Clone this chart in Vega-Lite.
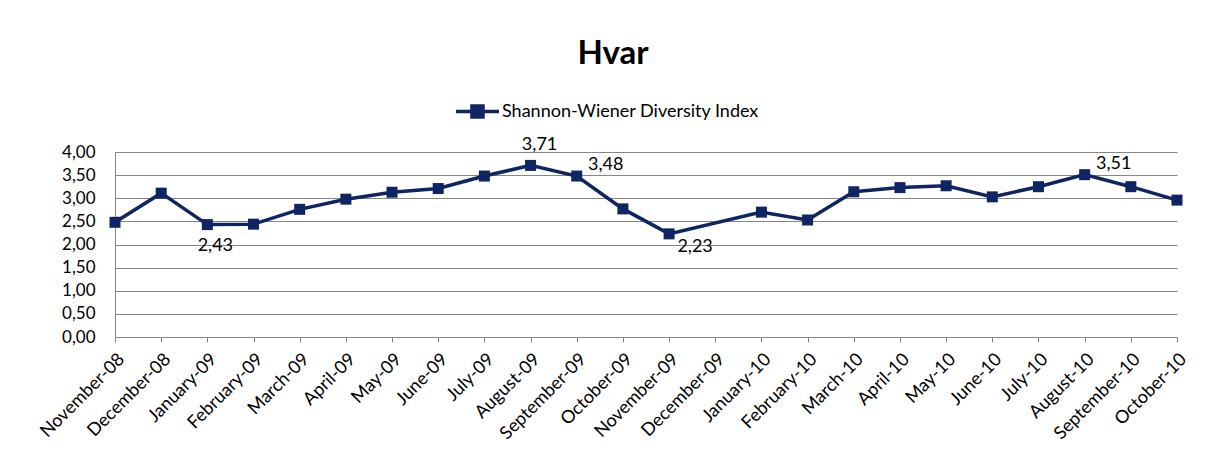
{
  "$schema": "https://vega.github.io/schema/vega-lite/v6.json",
  "width": 1062,
  "height": 185,
  "autosize": {"type": "none"},
  "padding": {"left": 115, "top": 152, "right": 28, "bottom": 123},
  "background": "white",
  "title": {"text": "Hvar", "fontSize": 33, "fontWeight": "bold", "color": "#000000", "font": "Lato", "anchor": "middle", "dx": -33, "offset": 17},
  "config": {
    "locale": {"number": {"decimal": ",", "thousands": ".", "grouping": [3], "currency": ["", " €"]}},
    "font": "Lato",
    "view": {"stroke": null}
  },
  "data": {
    "values": [
      {"month": "November-08", "index": 2.48},
      {"month": "December-08", "index": 3.11},
      {"month": "January-09", "index": 2.43},
      {"month": "February-09", "index": 2.44},
      {"month": "March-09", "index": 2.76},
      {"month": "April-09", "index": 2.98},
      {"month": "May-09", "index": 3.13},
      {"month": "June-09", "index": 3.21},
      {"month": "July-09", "index": 3.48},
      {"month": "August-09", "index": 3.71},
      {"month": "September-09", "index": 3.48},
      {"month": "October-09", "index": 2.77},
      {"month": "November-09", "index": 2.23},
      {"month": "January-10", "index": 2.70},
      {"month": "February-10", "index": 2.53},
      {"month": "March-10", "index": 3.14},
      {"month": "April-10", "index": 3.23},
      {"month": "May-10", "index": 3.27},
      {"month": "June-10", "index": 3.03},
      {"month": "July-10", "index": 3.25},
      {"month": "August-10", "index": 3.51},
      {"month": "September-10", "index": 3.25},
      {"month": "October-10", "index": 2.96}
    ]
  },
  "encoding": {
    "x": {
      "field": "month", "type": "ordinal",
      "scale": {"type": "point", "padding": 0, "domain": ["November-08","December-08","January-09","February-09","March-09","April-09","May-09","June-09","July-09","August-09","September-09","October-09","November-09","December-09","January-10","February-10","March-10","April-10","May-10","June-10","July-10","August-10","September-10","October-10"]},
      "axis": {"title": null, "labelAngle": -45, "labelFontSize": 18, "labelColor": "#000000", "labelFont": "Lato", "ticks": true, "tickSize": 5, "tickColor": "#868686", "domainColor": "#868686", "grid": false, "labelPadding": 8, "labelLimit": 300}
    },
    "y": {
      "field": "index", "type": "quantitative",
      "scale": {"domain": [0, 4], "nice": false, "zero": true},
      "axis": {"title": null, "values": [0, 0.5, 1, 1.5, 2, 2.5, 3, 3.5, 4], "format": ".2f", "labelFontSize": 17, "labelColor": "#000000", "labelFont": "Lato", "ticks": false, "labelPadding": 20, "gridColor": "#868686", "domainColor": "#868686", "grid": true}
    }
  },
  "layer": [
    {
      "mark": {"type": "line", "strokeWidth": 3.5, "color": "#0f2463"},
      "encoding": {}
    },
    {
      "mark": {"type": "point", "shape": "square", "filled": true, "size": 121, "opacity": 1},
      "encoding": {
        "color": {
          "datum": "Shannon-Wiener Diversity Index",
          "scale": {"range": ["#0f2463"]},
          "legend": {
            "title": null, "orient": "none", "legendX": 339, "legendY": -64,
            "symbolType": "M-1,0H1M-0.256,-0.256H0.256V0.256H-0.256Z",
            "symbolSize": 1849, "symbolStrokeWidth": 3.5, "symbolStrokeColor": "#0f2463", "symbolFillColor": "#0f2463",
            "labelFontSize": 18, "labelColor": "#000000", "labelFont": "Lato", "labelOffset": 1, "labelLimit": 500,
            "encode": {"symbols": {"update": {"stroke": {"value": "#0f2463"}, "strokeWidth": {"value": 3.5}, "fill": {"value": "#0f2463"}}}}
          }
        }
      }
    },
    {
      "transform": [{"filter": {"field": "month", "equal": "January-09"}}],
      "mark": {"type": "text", "fontSize": 18, "color": "#000000", "dx": 8, "dy": 21},
      "encoding": {"text": {"field": "index", "type": "quantitative", "format": ".2f"}}
    },
    {
      "transform": [{"filter": {"field": "month", "equal": "August-09"}}],
      "mark": {"type": "text", "fontSize": 18, "color": "#000000", "dx": 9, "dy": -20},
      "encoding": {"text": {"field": "index", "type": "quantitative", "format": ".2f"}}
    },
    {
      "transform": [{"filter": {"field": "month", "oneOf": ["September-09", "August-10"]}}],
      "mark": {"type": "text", "fontSize": 18, "color": "#000000", "dx": 29, "dy": -11},
      "encoding": {"text": {"field": "index", "type": "quantitative", "format": ".2f"}}
    },
    {
      "transform": [{"filter": {"field": "month", "equal": "November-09"}}],
      "mark": {"type": "text", "fontSize": 18, "color": "#000000", "dx": 26, "dy": 13},
      "encoding": {"text": {"field": "index", "type": "quantitative", "format": ".2f"}}
    }
  ]
}
